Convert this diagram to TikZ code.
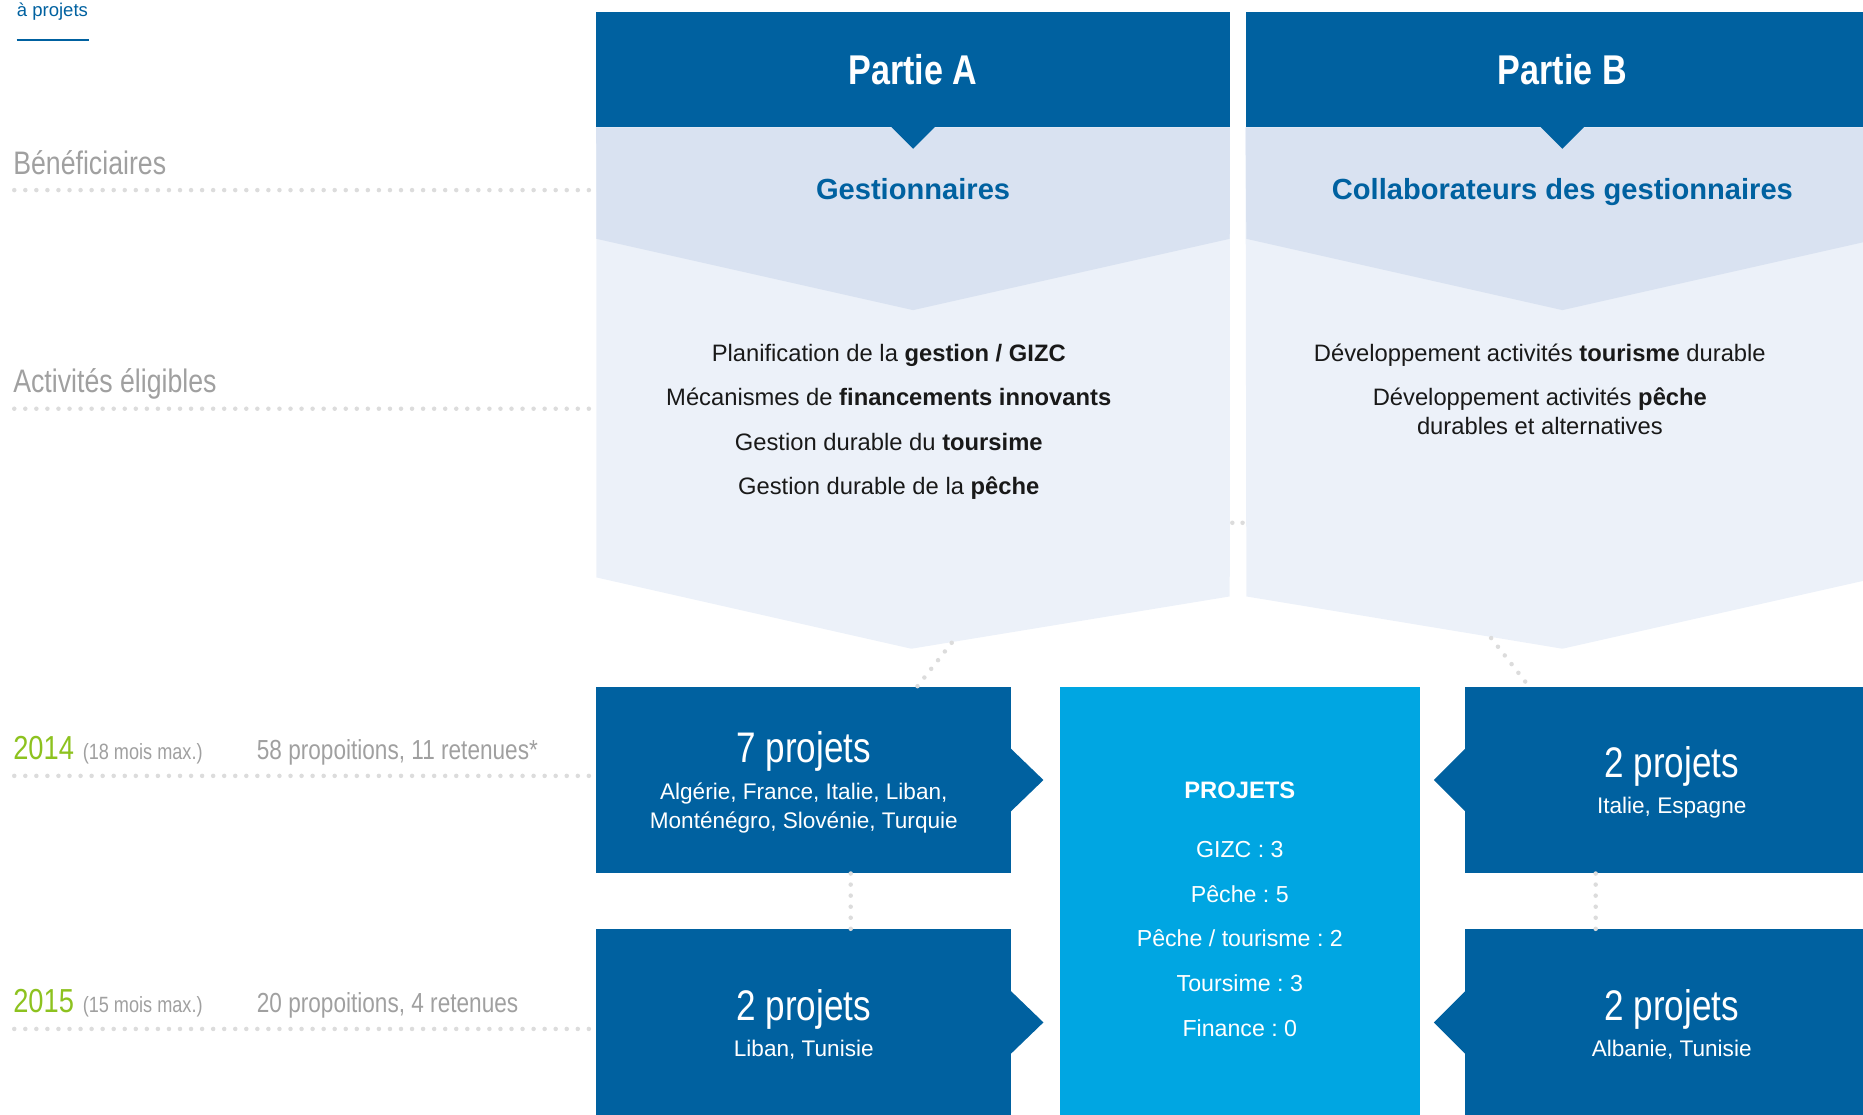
\documentclass[tikz,border=0pt]{standalone}
\usepackage{fontspec}
\setmainfont{Liberation Sans}
\newfontfamily\narrowfont[FakeStretch=0.82]{Liberation Sans}
\frenchspacing
\definecolor{darkblue}{HTML}{0061A0}
\definecolor{skyblue}{HTML}{00A6E2}
\definecolor{bandblue}{HTML}{D9E2F1}
\definecolor{paleblue}{HTML}{ECF1F9}
\definecolor{labelgray}{HTML}{A0A0A0}
\definecolor{yeargreen}{HTML}{8DC21F}
\definecolor{dotgray}{HTML}{DCDCDC}
\tikzset{
  dotline/.style={dotgray, line width=3.8pt, line cap=round, dash pattern=on 0pt off 9.3pt},
  header/.style={fill=darkblue, text=white, minimum width=533pt, minimum height=97pt, inner sep=0pt,
    font=\narrowfont\bfseries\fontsize{35}{40}\selectfont},
  target/.style={text=darkblue, anchor=base, inner sep=0pt, font=\bfseries\fontsize{24.5}{28}\selectfont},
  activity/.style={text=black!90, anchor=base, inner sep=0pt, font=\fontsize{20}{24}\selectfont},
  rowlabel/.style={text=labelgray, anchor=base west, inner sep=0pt, font=\narrowfont\fontsize{27.4}{32}\selectfont},
  year/.style={text=yeargreen, anchor=base west, inner sep=0pt, font=\narrowfont\fontsize{28}{32}\selectfont},
  duration/.style={text=labelgray, anchor=base west, inner sep=0pt, font=\narrowfont\fontsize{18.6}{22}\selectfont},
  tally/.style={text=labelgray, anchor=base west, inner sep=0pt, font=\narrowfont\fontsize{23.2}{28}\selectfont},
  projbox/.style={fill=darkblue, minimum width=349pt, minimum height=157pt, inner sep=0pt},
  sumbox/.style={fill=skyblue, minimum width=303pt, minimum height=361pt, inner sep=0pt},
  bignum/.style={text=white, anchor=base, inner sep=0pt, font=\narrowfont\fontsize{36}{42}\selectfont},
  country/.style={text=white, anchor=base, inner sep=0pt, font=\fontsize{19}{23}\selectfont},
  sumtext/.style={text=white, anchor=base, inner sep=0pt, font=\fontsize{19.5}{23}\selectfont}
}
\begin{document}
\begin{tikzpicture}[x=1pt, y=-1pt]
    \useasboundingbox (0,0) rectangle (1568,938);
    % top link
    \node[text=darkblue, anchor=base west, inner sep=0pt, font=\fontsize{15.6}{18}\selectfont] (link) at (14,14) {à projets};
    \draw[darkblue, line width=1.6pt] (14,34) -- (75,34);
    % rows on the left
    \foreach \y in {160,344,653,866}
        \draw[dotline] (12,\y) -- (501,\y);
    \node[rowlabel] (benef) at (11,147) {Bénéficiaires};
    \node[rowlabel] (activ) at (11,330) {Activités éligibles};
    \node[year] (y14) at (11,639) {2014};
    \node[duration] (m14) at ([xshift=7pt]y14.base east) {(18 mois max.)};
    \node[tally] (t14) at (216,639) {58 propoitions, 11 retenues*};
    \node[year] (y15) at (11,852) {2015};
    \node[duration] (m15) at ([xshift=7pt]y15.base east) {(15 mois max.)};
    \node[tally] (t15) at (216,852) {20 propoitions, 4 retenues};
    % dots between the panels
    \draw[dotline, dash pattern=on 0pt off 8.6pt] (1037.2,440) -- (1045.8,440);
    % panel A
    \node[header] (hA) at (768.5,58.5) {Partie A};
    \fill[paleblue] (hA.south west) -- (hA.south east) -- (1035,502) -- (767,546) -- (502,486) -- cycle;
    \fill[bandblue] (hA.south west) -- (hA.south east) -- (1035,201) -- (768.5,261) -- (502,201) -- cycle;
    \fill[darkblue] ([xshift=-19pt,yshift=1pt]hA.south) -- ([xshift=19pt,yshift=1pt]hA.south) -- ([yshift=-18pt]hA.south) -- cycle;
    % panel B
    \node[header] (hB) at (1315,58.5) {Partie B};
    \fill[paleblue] (hB.south west) -- (hB.south east) -- (1581,486) -- (1315,546) -- (1049,502) -- cycle;
    \fill[bandblue] (hB.south west) -- (hB.south east) -- (1581,201) -- (1315,261) -- (1049,201) -- cycle;
    \fill[darkblue] ([xshift=-19pt,yshift=1pt]hB.south) -- ([xshift=19pt,yshift=1pt]hB.south) -- ([yshift=-18pt]hB.south) -- cycle;
    \coordinate (Aexit) at (801,541);
    \coordinate (Bexit) at (1255,537);
    \node[target] (gA) at (768.5,168) {Gestionnaires};
    \node[target] (gB) at (1315,168) {Collaborateurs des gestionnaires};
    \node[activity] (a1t) at (748,304) {Planification de la \textbf{gestion / GIZC}};
    \node[activity] (a2t) at (748,341.5) {Mécanismes de \textbf{financements innovants}};
    \node[activity] (a3t) at (748,379) {Gestion durable du \textbf{toursime}};
    \node[activity] (a4t) at (748,416.5) {Gestion durable de la \textbf{pêche}};
    \node[activity] (b1t) at (1296,304) {Développement activités \textbf{tourisme} durable};
    \node[activity] (b2t) at (1296,341.5) {Développement activités \textbf{pêche}};
    \node[activity] (b3t) at (1296,366) {durables et alternatives};
    % project boxes
    \node[projbox] (a1) at (676.5,656.5) {};
    \node[projbox] (a2) at (676.5,860.5) {};
    \node[projbox, minimum width=348pt] (b1) at (1407,656.5) {};
    \node[projbox, minimum width=348pt] (b2) at (1407,860.5) {};
    \node[sumbox] (tot) at (1043.5,758.5) {};
    \foreach \n in {a1,a2}
        \fill[darkblue] ([xshift=-1pt,yshift=27pt]\n.east) -- ([xshift=27pt]\n.east) -- ([xshift=-1pt,yshift=-27pt]\n.east) -- cycle;
    \foreach \n in {b1,b2}
        \fill[darkblue] ([xshift=1pt,yshift=27pt]\n.west) -- ([xshift=-26pt]\n.west) -- ([xshift=1pt,yshift=-27pt]\n.west) -- cycle;
    \draw[dotline] (Aexit) -- ([xshift=95.5pt]a1.north);
    \draw[dotline] (Bexit) -- ([xshift=-120pt]b1.north);
    \draw[dotline] ([xshift=39.5pt]a1.south) -- ([xshift=39.5pt]a2.north);
    \draw[dotline] ([xshift=-64pt]b1.south) -- ([xshift=-64pt]b2.north);
    \node[bignum] (n1) at (676.5,642) {7 projets};
    \node[country] (c1) at (676.5,673) {Algérie, France, Italie, Liban,};
    \node[country] (c1b) at (676.5,697.5) {Monténégro, Slovénie, Turquie};
    \node[bignum] (n2) at (676.5,858.5) {2 projets};
    \node[country] (c2) at (676.5,889.5) {Liban, Tunisie};
    \node[bignum] (n3) at (1407,654) {2 projets};
    \node[country] (c3) at (1407,684.5) {Italie, Espagne};
    \node[bignum] (n4) at (1407,858.5) {2 projets};
    \node[country] (c4) at (1407,889.5) {Albanie, Tunisie};
    % totals
    \node[sumtext, font=\bfseries\fontsize{20}{24}\selectfont] (sumhead) at (1043.5,672) {PROJETS};
    \foreach \t [count=\i] in {GIZC : 3, Pêche : 5, Pêche / tourisme : 2, Toursime : 3, Finance : 0}
        \node[sumtext] (s\i) at (1043.5,684.5+37.5*\i) {\t};
\end{tikzpicture}
\end{document}
